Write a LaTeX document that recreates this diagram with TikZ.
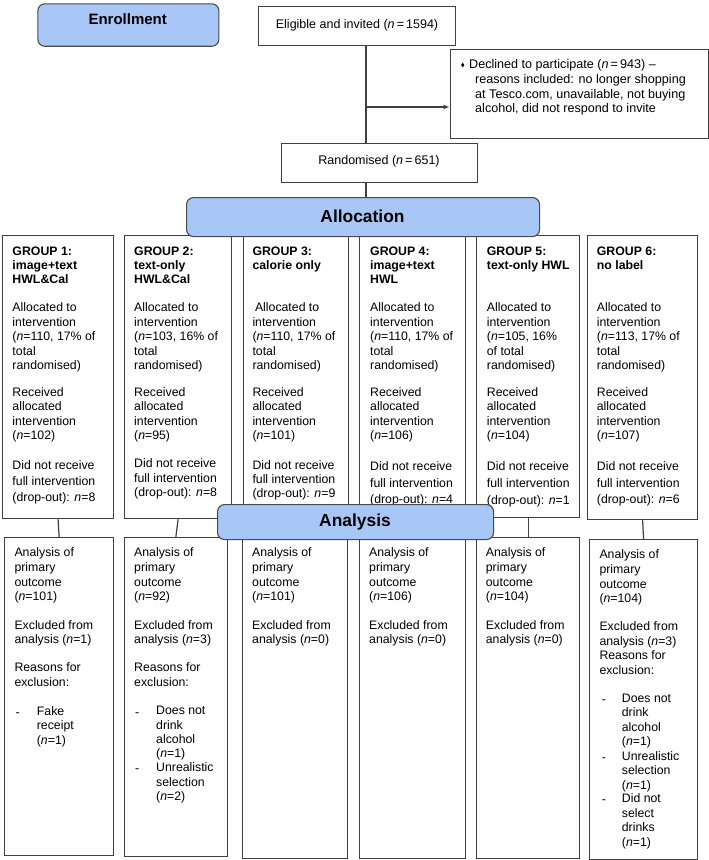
\documentclass[tikz,border=0pt]{standalone}
\usepackage{fontspec}
\usetikzlibrary{arrows.meta}
\setmainfont{Liberation Sans}
\definecolor{lc}{HTML}{404040}
\definecolor{bluefill}{HTML}{A9C7F6}
\definecolor{bc}{HTML}{4A4A4A}
\begin{document}
\begin{tikzpicture}[x=1pt,y=-1pt,
  box/.style={draw=lc, line width=1.2pt, fill=white, inner sep=0pt, anchor=north west},
  bluebox/.style={draw=bc, fill=bluefill, rounded corners=7pt, line width=1.1pt, inner sep=0pt, anchor=north west},
  txt/.style={inner sep=0pt, anchor=north west, align=left, font=\fontsize{12.3}{14.4}\selectfont, execute at begin node={\rule{0pt}{10pt}}},
  hd/.style={txt, font=\bfseries\fontsize{12.3}{14}\selectfont},
  toptxt/.style={inner sep=0pt, font=\fontsize{12.5}{14}\selectfont},
  big/.style={inner sep=0pt, font=\bfseries\fontsize{17.4}{20}\selectfont},
  conn/.style={draw=lc, line width=1.2pt},
  arr/.style={conn, -{Latex[length=6pt,width=5pt]}},
]
\useasboundingbox (0,0) rectangle (709,860);
\fill[white] (0,0) rectangle (709,860);

% ---- top part
\node[bluebox, minimum width=181pt, minimum height=42.4pt] (enr) at (37.3,3.3) {};
\node[inner sep=0pt, font=\bfseries\fontsize{15}{17}\selectfont] (enrt) at (127.7,19) {Enrollment};
\node[box, minimum width=197pt, minimum height=39pt] (elig) at (258,6) {};
\node[toptxt] (eligt) at (357,25.5) {Eligible and invited (\textit{n}\,=\,1594)};
\node[box, minimum width=258pt, minimum height=89pt] (decl) at (449.5,49) {};
\fill[black] (462.7,62.6) -- (464.3,65) -- (462.7,67.4) -- (461.1,65) -- cycle;
\node[txt, font=\fontsize{12.6}{14.6}\selectfont] (declt) at (469,59.5)
  {Declined to participate (\textit{n}\,=\,943) –\\
   \hspace*{6pt}reasons included: no longer shopping\\
   \hspace*{6pt}at Tesco.com, unavailable, not buying\\
   \hspace*{6pt}alcohol, did not respond to invite};
\node[box, minimum width=196pt, minimum height=39pt] (rand) at (281,143) {};
\node[toptxt] (randt) at (379,161.5) {Randomised (\textit{n}\,=\,651)};

\coordinate (trunk) at (366,0);
\coordinate (arry) at (0,107);
\draw[conn] (elig.south -| trunk) -- (rand.north -| trunk);
\draw[arr] (trunk |- arry) -- (decl.west |- arry);

% ---- group boxes
\node[box, minimum width=111pt, minimum height=283pt] (g1) at (2,235) {};
\node[box, minimum width=107pt, minimum height=283pt] (g2) at (124,235) {};
\node[box, minimum width=104.5pt, minimum height=283pt] (g3) at (243,235) {};
\node[box, minimum width=106pt, minimum height=283pt] (g4) at (359,235) {};
\node[box, minimum width=103pt, minimum height=282pt] (g5) at (476,235) {};
\node[box, minimum width=110pt, minimum height=284pt] (g6) at (587,235) {};

% ---- analysis boxes
\node[box, minimum width=109pt, minimum height=318pt] (a1) at (4,537) {};
\node[box, minimum width=102.5pt, minimum height=319pt] (a2) at (124,537) {};
\node[box, minimum width=105pt, minimum height=321pt] (a3) at (242,537) {};
\node[box, minimum width=106pt, minimum height=321pt] (a4) at (359,537) {};
\node[box, minimum width=103pt, minimum height=321pt] (a5) at (476,537) {};
\node[box, minimum width=108pt, minimum height=320pt] (a6) at (589,539) {};

\foreach \i in {1,...,6} {\draw[conn] (g\i.south) -- (a\i.north);}

% ---- group texts
% group 1
\node[hd] (g1h) at (12.3,246.4) {GROUP 1:\\image+text\\HWL\&Cal};
\node[txt] (g1a) at (12.3,302.7) {Allocated to\\intervention\\(\textit{n}=110, 17\% of\\total\\randomised)};
\node[txt] (g1r) at (12.3,387.1) {Received\\allocated\\intervention\\(\textit{n}=102)};
\node[txt, font=\fontsize{12.3}{16.2}\selectfont] (g1d) at (12.3,460.4) {Did not receive\\full intervention\\(drop-out): \textit{n}=8};
% group 2
\node[hd] (g2h) at (134,246.4) {GROUP 2:\\text-only\\HWL\&Cal};
\node[txt] (g2a) at (134,302.7) {Allocated to\\intervention\\(\textit{n}=103, 16\% of\\total\\randomised)};
\node[txt] (g2r) at (134,387.1) {Received\\allocated\\intervention\\(\textit{n}=95)};
\node[txt, font=\fontsize{12.3}{14.5}\selectfont] (g2d) at (134,458.4) {Did not receive\\full intervention\\(drop-out): \textit{n}=8};
% group 3
\node[hd] (g3h) at (252.3,246.4) {GROUP 3:\\calorie only};
\node[txt] (g3a) at (252.3,302.7) {\hspace*{2.5pt}Allocated to\\intervention\\(\textit{n}=110, 17\% of\\total\\randomised)};
\node[txt] (g3r) at (252.3,387.1) {Received\\allocated\\intervention\\(\textit{n}=101)};
\node[txt, font=\fontsize{12.3}{13.8}\selectfont] (g3d) at (252.3,460.4) {Did not receive\\full intervention\\(drop-out): \textit{n}=9};
% group 4
\node[hd] (g4h) at (370,246.4) {GROUP 4:\\image+text\\HWL};
\node[txt] (g4a) at (370,302.7) {Allocated to\\intervention\\(\textit{n}=110, 17\% of\\total\\randomised)};
\node[txt] (g4r) at (370,387.1) {Received\\allocated\\intervention\\(\textit{n}=106)};
\node[txt, font=\fontsize{12.3}{16.5}\selectfont] (g4d) at (370,461.4) {Did not receive\\full intervention\\(drop-out): \textit{n}=4};
% group 5
\node[hd] (g5h) at (486.7,246.4) {GROUP 5:\\text-only HWL};
\node[txt] (g5a) at (486.7,302.7) {Allocated to\\intervention\\(\textit{n}=105, 16\%\\of total\\randomised)};
\node[txt] (g5r) at (486.7,387.1) {Received\\allocated\\intervention\\(\textit{n}=104)};
\node[txt, font=\fontsize{12.3}{16.8}\selectfont] (g5d) at (486.7,461.4) {Did not receive\\full intervention\\(drop-out): \textit{n}=1};
% group 6
\node[hd] (g6h) at (596.7,246.4) {GROUP 6:\\no label};
\node[txt] (g6a) at (596.7,302.7) {Allocated to\\intervention\\(\textit{n}=113, 17\% of\\total\\randomised)};
\node[txt] (g6r) at (596.7,387.1) {Received\\allocated\\intervention\\(\textit{n}=107)};
\node[txt, font=\fontsize{12.3}{16.5}\selectfont] (g6d) at (596.7,461.4) {Did not receive\\full intervention\\(drop-out): \textit{n}=6};

% ---- analysis texts
% A1
\node[txt, font=\fontsize{12.3}{14.6}\selectfont] (a1p) at (14.3,547.7) {Analysis of\\primary\\outcome\\(\textit{n}=101)};
\node[txt] (a1e) at (14.3,620.1) {Excluded from\\analysis (\textit{n}=1)};
\node[txt] (a1r) at (14.3,662.7) {Reasons for\\exclusion:};
\node[txt] (a1d1) at (15.5,706.1) {-};
\node[txt] (a1i1) at (36.7,706.1) {Fake\\receipt\\(\textit{n}=1)};
% A2
\node[txt, font=\fontsize{12.3}{14.6}\selectfont] (a2p) at (134,547.7) {Analysis of\\primary\\outcome\\(\textit{n}=92)};
\node[txt] (a2e) at (134,620.1) {Excluded from\\analysis (\textit{n}=3)};
\node[txt] (a2r) at (134,662.7) {Reasons for\\exclusion:};
\node[txt] (a2d1) at (135,706.1) {-};
\node[txt, font=\fontsize{12.3}{14.4}\selectfont] (a2i1) at (156,706.1) {Does not\\drink\\alcohol\\(\textit{n}=1)};
\node[txt] (a2d2) at (135,762.7) {-};
\node[txt] (a2i2) at (156,762.7) {Unrealistic\\selection\\(\textit{n}=2)};
% A3
\node[txt, font=\fontsize{12.3}{14.6}\selectfont] (a3p) at (252,547.7) {Analysis of\\primary\\outcome\\(\textit{n}=101)};
\node[txt] (a3e) at (252,620.1) {Excluded from\\analysis (\textit{n}=0)};
% A4
\node[txt, font=\fontsize{12.3}{14.6}\selectfont] (a4p) at (369,547.7) {Analysis of\\primary\\outcome\\(\textit{n}=106)};
\node[txt] (a4e) at (369,620.1) {Excluded from\\analysis (\textit{n}=0)};
% A5
\node[txt, font=\fontsize{12.3}{14.6}\selectfont] (a5p) at (485.7,547.7) {Analysis of\\primary\\outcome\\(\textit{n}=104)};
\node[txt] (a5e) at (485.7,620.1) {Excluded from\\analysis (\textit{n}=0)};
% A6
\node[txt, font=\fontsize{12.3}{14.8}\selectfont] (a6p) at (599.3,549.4) {Analysis of\\primary\\outcome\\(\textit{n}=104)};
\node[txt, font=\fontsize{12.3}{14.8}\selectfont] (a6e) at (599.3,621.1) {Excluded from\\analysis (\textit{n}=3)\\Reasons for\\exclusion:};
\node[txt] (a6d1) at (601.7,693.7) {-};
\node[txt] (a6i1) at (621.7,693.7) {Does not\\drink\\alcohol\\(\textit{n}=1)};
\node[txt] (a6d2) at (601.7,751.1) {-};
\node[txt] (a6i2) at (621.7,751.1) {Unrealistic\\selection\\(\textit{n}=1)};
\node[txt] (a6d3) at (601.7,793.7) {-};
\node[txt] (a6i3) at (621.7,793.7) {Did not\\select\\drinks\\(\textit{n}=1)};

% ---- section labels on top
\node[bluebox, minimum width=353pt, minimum height=39pt] (alloc) at (186,197) {};
\node[big] (alloct) at (362.5,216.5) {Allocation};
\draw[conn] (rand.south -| trunk) -- (alloc.north -| trunk);
\node[bluebox, minimum width=276pt, minimum height=35pt] (anal) at (217,504) {};
\node[big] (analt) at (355,521.7) {Analysis};
\end{tikzpicture}
\end{document}
